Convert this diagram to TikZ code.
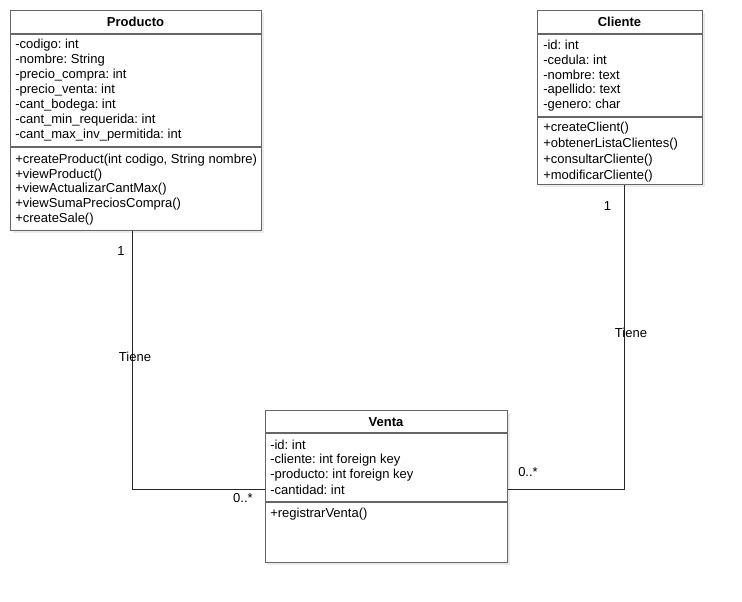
\documentclass[tikz,border=0pt]{standalone}
\usepackage{fontspec}
\setmainfont{Liberation Sans}
\frenchspacing
\begin{document}
\begin{tikzpicture}[x=0.75pt,y=-0.75pt,
  box/.style={draw=black!60,line width=1pt,fill=white,rectangle,anchor=north west,inner sep=0pt},
  shadowbox/.style={fill=black!8,draw=none},
  sep/.style={draw=black!60,line width=1pt},
  row/.style={anchor=west,inner sep=0pt,font=\fontsize{9.75pt}{10pt}\selectfont\frenchspacing},
  head/.style={anchor=center,inner sep=0pt,font=\fontsize{9.75pt}{10pt}\selectfont\bfseries},
  conn/.style={draw=black!85,line width=0.75pt},
  lbl/.style={anchor=center,inner sep=0pt,font=\fontsize{9.75pt}{10pt}\selectfont}]
\useasboundingbox (0,0) rectangle (742,602);
% shadows
\fill[shadowbox] (13,13) rectangle (264,233);
\fill[shadowbox] (540,13) rectangle (705,187);
\fill[shadowbox] (268,413) rectangle (510,565);
% boxes
\node[box,minimum width=251pt*0.75,minimum height=220pt*0.75] (prod) at (10,10) {};
\node[box,minimum width=165pt*0.75,minimum height=174pt*0.75] (cli) at (537,10) {};
\node[box,minimum width=242pt*0.75,minimum height=152pt*0.75] (venta) at (265,410) {};
% separators
\draw[sep] (prod.west |- 0,34) -- (prod.east |- 0,34);
\draw[sep] (prod.west |- 0,147) -- (prod.east |- 0,147);
\draw[sep] (cli.west |- 0,34) -- (cli.east |- 0,34);
\draw[sep] (cli.west |- 0,117) -- (cli.east |- 0,117);
\draw[sep] (venta.west |- 0,433) -- (venta.east |- 0,433);
\draw[sep] (venta.west |- 0,502) -- (venta.east |- 0,502);
% headers
\node[head] (prodh) at (135.5,22) {Producto};
\node[head] (clih) at (619.5,22) {Cliente};
\node[head] (ventah) at (386,422) {Venta};
% Producto rows
\node[row] (pa1) at (15,45) {-codigo: int};
\node[row] (pa2) at (15,60) {-nombre: String};
\node[row] (pa3) at (15,75) {-precio\_compra: int};
\node[row] (pa4) at (15,90) {-precio\_venta: int};
\node[row] (pa5) at (15,105) {-cant\_bodega: int};
\node[row] (pa6) at (15,120) {-cant\_min\_requerida: int};
\node[row] (pa7) at (15,135) {-cant\_max\_inv\_permitida: int};
\node[row] (pm1) at (15,160) {+createProduct(int codigo, String nombre)};
\node[row] (pm2) at (15,174.7) {+viewProduct()};
\node[row] (pm3) at (15,189.4) {+viewActualizarCantMax()};
\node[row] (pm4) at (15,204.1) {+viewSumaPreciosCompra()};
\node[row] (pm5) at (15,218.8) {+createSale()};
% Cliente rows
\node[row] (ca1) at (543,45) {-id: int};
\node[row] (ca2) at (543,60) {-cedula: int};
\node[row] (ca3) at (543,75) {-nombre: text};
\node[row] (ca4) at (543,90) {-apellido: text};
\node[row] (ca5) at (543,105) {-genero: char};
\node[row] (cm1) at (543,128) {+createClient()};
\node[row] (cm2) at (543,144) {+obtenerListaClientes()};
\node[row] (cm3) at (543,160) {+consultarCliente()};
\node[row] (cm4) at (543,176) {+modificarCliente()};
% Venta rows
\node[row] (va1) at (270,445) {-id: int};
\node[row] (va2) at (270,460) {-cliente: int foreign key};
\node[row] (va3) at (270,475) {-producto: int foreign key};
\node[row] (va4) at (270,490) {-cantidad: int};
\node[row] (vm1) at (270,514) {+registrarVenta()};
% connectors
\coordinate (lc) at (132,489);
\coordinate (rc) at (624,489);
\draw[conn] (prod.south -| lc) -- (lc) -- (venta.west |- lc);
\draw[conn] (cli.south -| rc) -- (rc) -- (venta.east |- rc);
% labels
\node[lbl] (l1) at (121,251.5) {1};
\node[lbl] (lt) at (135,356.5) {Tiene};
\node[lbl] (l0) at (243,498.5) {0..*};
\node[lbl] (r1) at (607.5,206.5) {1};
\node[lbl] (rt) at (631,332.5) {Tiene};
\node[lbl] (r0) at (528,472.5) {0..*};
\end{tikzpicture}
\end{document}
